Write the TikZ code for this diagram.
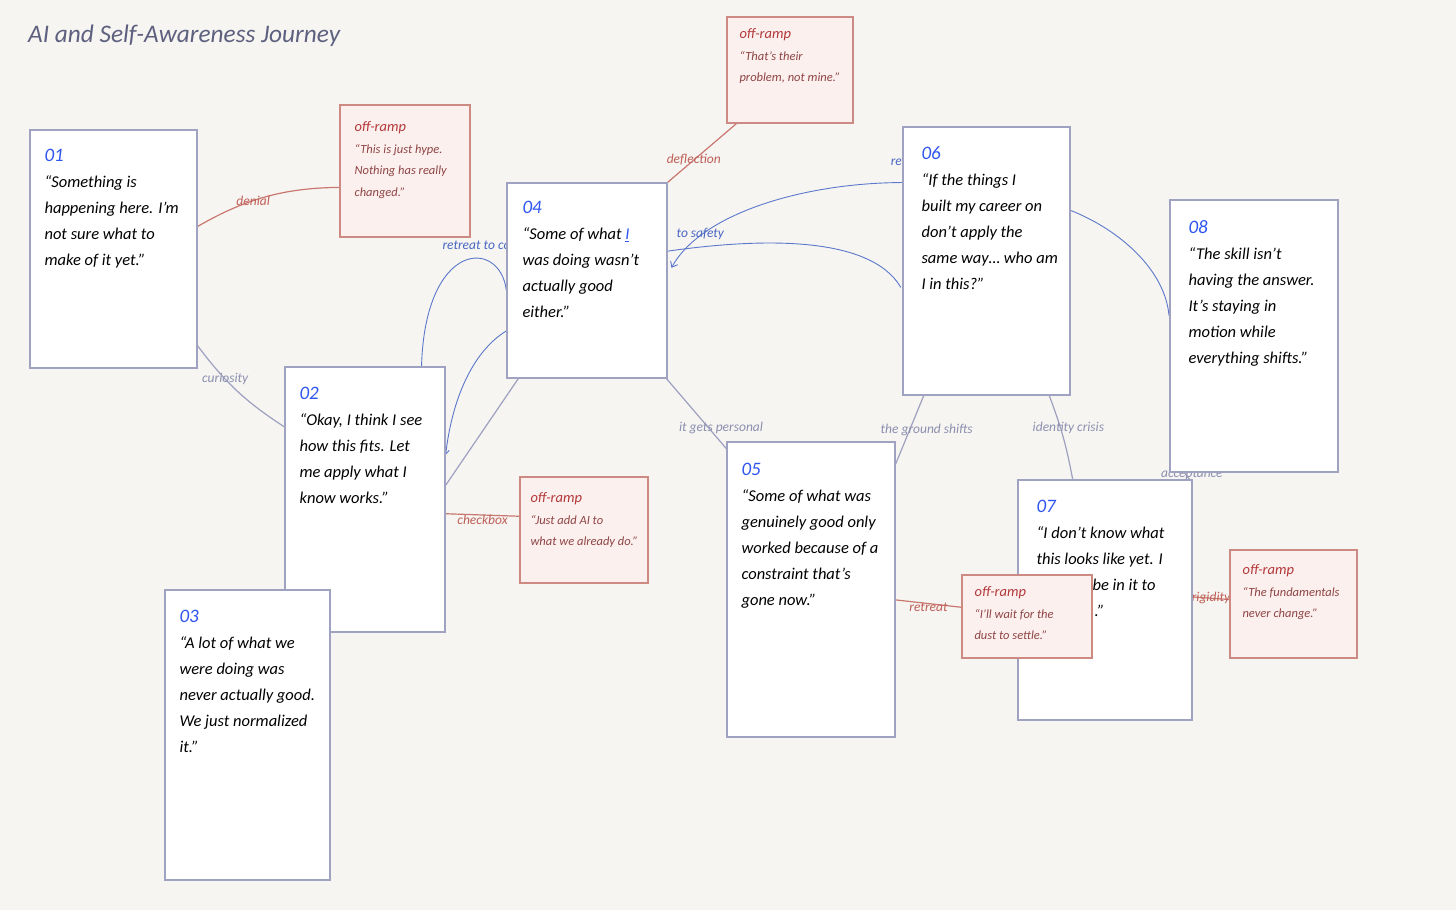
\documentclass[tikz,border=0pt]{standalone}
\usepackage{fontspec}
\setmainfont{Carlito}
\usetikzlibrary{arrows.meta}
\pgfdeclarelayer{bg}
\pgfsetlayers{bg,main}
\definecolor{paper}{HTML}{F6F5F1}
\definecolor{cardline}{HTML}{A0A2C2}
\definecolor{numblue}{HTML}{2F55F0}
\definecolor{rampfill}{HTML}{FCF0EE}
\definecolor{rampline}{HTML}{CC8A82}
\definecolor{ramptitle}{HTML}{B3383A}
\definecolor{ramptext}{HTML}{8E4545}
\definecolor{flowline}{HTML}{5C78CC}
\definecolor{flowlbl}{HTML}{4A67C4}
\definecolor{grayline}{HTML}{9EA0C0}
\definecolor{graytext}{HTML}{8C8FB0}
\definecolor{redline}{HTML}{C97770}
\definecolor{redtext}{HTML}{BF5F58}
\definecolor{titlecol}{HTML}{5E6080}
\newcommand{\cardno}[1]{{\color{numblue}\fontsize{19}{26}\selectfont #1}}
\newcommand{\rampname}{{\color{ramptitle}\fontsize{14.5}{21.5}\selectfont off-ramp}}
\tikzset{
  card/.style={draw=cardline, line width=1.3pt, fill=white, inner sep=0pt},
  cardtxt/.style={anchor=north west, align=left, inner sep=0pt, font=\fontsize{16.5}{26}\selectfont\itshape},
  ramp/.style={draw=rampline, line width=1.3pt, fill=rampfill, inner sep=0pt},
  ramptxt/.style={anchor=north west, align=left, inner sep=0pt, text=ramptext, font=\fontsize{12.5}{21.5}\selectfont\itshape},
  grayflow/.style={draw=grayline, line width=1.2pt},
  blueflow/.style={draw=flowline, line width=0.9pt},
  redflow/.style={draw=redline, line width=1.2pt},
  graylbl/.style={text=graytext, inner sep=0pt, font=\fontsize{13.5}{14}\selectfont\itshape},
  bluelbl/.style={text=flowlbl, inner sep=0pt, font=\fontsize{13.5}{14}\selectfont\itshape},
  redlbl/.style={text=redtext, inner sep=0pt, font=\fontsize{13.5}{14}\selectfont\itshape}
}
\begin{document}
\begin{tikzpicture}[x=1pt, y=-1pt]
\begin{pgfonlayer}{bg}
\fill[paper] (0,0) rectangle (1456,910);
\end{pgfonlayer}
\useasboundingbox (0,0) rectangle (1456,910);
\node[anchor=west, inner sep=0pt, text=titlecol, font=\fontsize{25.3}{28}\selectfont\itshape] (title) at (28,36) {AI and Self-Awareness Journey};

\node[card, minimum width=167, minimum height=238] (c01) at (113.5,249) {};
\node[cardtxt] (t01) at ([xshift=15pt, yshift=-20pt]c01.north west) {\cardno{01}\\“Something is\\happening here. I’m\\not sure what to\\make of it yet.”};
\node[card, minimum width=160, minimum height=265] (c02) at (365,499.5) {};
\node[cardtxt] (t02) at ([xshift=15pt, yshift=-21pt]c02.north west) {\cardno{02}\\“Okay, I think I see\\how this fits. Let\\me apply what I\\know works.”};
\node[card, minimum width=165, minimum height=290] (c03) at (247.5,735) {};
\node[cardtxt] (t03) at ([xshift=15pt, yshift=-21pt]c03.north west) {\cardno{03}\\“A lot of what we\\were doing was\\never actually good.\\We just normalized\\it.”};
\node[card, minimum width=160, minimum height=195] (c04) at (587,280.5) {};
\node[cardtxt] (t04) at ([xshift=16pt, yshift=-19pt]c04.north west) {\cardno{04}\\“Some of what {\color{numblue}\underline{I}}\\was doing wasn’t\\actually good\\either.”};
\node[card, minimum width=168, minimum height=295] (c05) at (811,589.5) {};
\node[cardtxt] (t05) at ([xshift=15pt, yshift=-22pt]c05.north west) {\cardno{05}\\“Some of what was\\genuinely good only\\worked because of a\\constraint that’s\\gone now.”};
\node[card, minimum width=167, minimum height=268] (c06) at (986.5,261) {};
\node[cardtxt] (t06) at ([xshift=19pt, yshift=-20pt]c06.north west) {\cardno{06}\\“If the things I\\built my career on\\don’t apply the\\same way… who am\\I in this?”};
\node[card, minimum width=168, minimum height=272] (c08) at (1254,336) {};
\node[cardtxt] (t08) at ([xshift=19pt, yshift=-21pt]c08.north west) {\cardno{08}\\“The skill isn’t\\having the answer.\\It’s staying in\\motion while\\everything shifts.”};
\node[card, minimum width=174, minimum height=240] (c07) at (1105,600) {};
\node[cardtxt] (t07) at ([xshift=19pt, yshift=-21pt]c07.north west) {\cardno{07}\\“I don’t know what\\this looks like yet. I\\\hspace*{56pt}be in it to\\\hspace*{58pt}.”};

\node[ramp, minimum width=130, minimum height=132] (r1) at (405,171) {};
\node[ramptxt] (s1) at ([xshift=15pt, yshift=-17pt]r1.north west) {\rampname\\“This is just hype.\\Nothing has really\\changed.”};
\node[ramp, minimum width=126, minimum height=106] (r2) at (790,70) {};
\node[ramptxt] (s2) at ([xshift=13pt, yshift=-12pt]r2.north west) {\rampname\\“That’s their\\problem, not mine.”};
\node[ramp, minimum width=128, minimum height=106] (r3) at (584,530) {};
\node[ramptxt] (s3) at ([xshift=11pt, yshift=-16pt]r3.north west) {\rampname\\“Just add AI to\\what we already do.”};
\node[ramp, minimum width=130, minimum height=83] (r4) at (1027,616.5) {};
\node[ramptxt] (s4) at ([xshift=13pt, yshift=-12pt]r4.north west) {\rampname\\“I’ll wait for the\\dust to settle.”};
\node[ramp, minimum width=127, minimum height=108] (r5) at (1293.5,604) {};
\node[ramptxt] (s5) at ([xshift=13pt, yshift=-15pt]r5.north west) {\rampname\\“The fundamentals\\never change.”};

\begin{pgfonlayer}{bg}
\draw[redflow] (c01.15) .. controls (250,196) and (290,188) .. node[redlbl, pos=0.38]{denial} (r1.194);
\draw[grayflow] (c01.311) to[bend right=10] node[graylbl, pos=0.35]{curiosity} (c02.138);
\draw[redflow] (c04.north east) -- node[redlbl, pos=0.38]{deflection} (r2.225);
\draw[blueflow] (c02.67) .. controls (425,240) and (500,238) .. node[bluelbl, pos=0.5, above=10pt, xshift=29pt]{retreat to comfort} (c04.187);
\draw[blueflow, -{Straight Barb[length=4pt, width=6pt]}] (c04.212) .. controls (472,352) and (452,400) .. (c02.29);
\draw[blueflow, -{Straight Barb[length=5pt, width=8pt]}, shorten >=8pt] (c06.137) .. controls (800,183) and (700,215) .. node[bluelbl, pos=0.9, above=18pt, xshift=21pt]{to safety} node[bluelbl, pos=0, anchor=south east, xshift=0pt, yshift=16pt]{re} (c04.4);
\draw[blueflow, shorten >=3pt] (c04.20) .. controls (760,238) and (870,235) .. (c06.199);
\draw[blueflow, shorten >=4pt] (c06.31) .. controls (1120,230) and (1165,270) .. (c08.169);
\draw[grayflow] (c02.10) -- (c04.235);
\draw[grayflow] (c04.-51) -- node[graylbl, pos=0.71, xshift=12pt]{it gets personal} (c05.121);
\draw[grayflow] (c06.245) -- node[graylbl, pos=0.5, xshift=17pt]{the ground shifts} (c05.56);
\draw[grayflow] (c06.295) to[bend left=5] node[graylbl, pos=0.38, xshift=8pt]{identity crisis} (c07.105);
\draw[grayflow] (c07.55) -- node[graylbl, pos=0.5, xshift=5pt, yshift=2pt]{acceptance} (c08.243);
\draw[redflow] (c02.350) -- node[redlbl, pos=0.5, yshift=-5pt]{checkbox} (r3.168);
\draw[redflow] (c05.-7) -- node[redlbl, pos=0.5, yshift=-4pt]{retreat} (r4.172);
\draw[redflow] (c07.2) -- node[redlbl, pos=0.5]{rigidity} (r5.176);
\end{pgfonlayer}
\end{tikzpicture}
\end{document}
